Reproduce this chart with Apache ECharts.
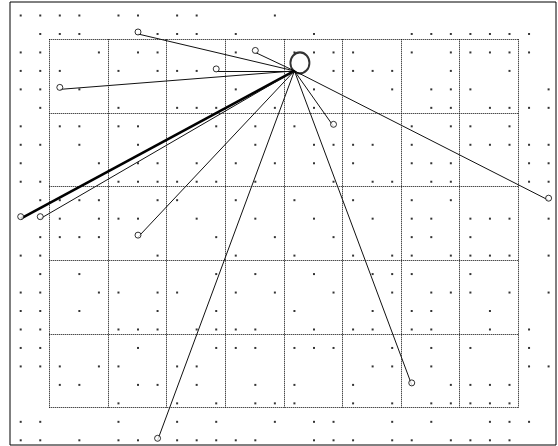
<!DOCTYPE html>
<html>
<head>
<meta charset="utf-8">
<script src="https://cdn.jsdelivr.net/npm/echarts@6/dist/echarts.min.js"></script>
<style>
  html, body { margin: 0; padding: 0; background: #fff; }
  #chart { width: 558px; height: 446px; }
</style>
</head>
<body>
<div id="chart"></div>
<script>
// dot field: for each row (top to bottom) the columns that carry a dot
const dotRows = [
  [0,1,2,3,5,6,8,9,13],
  [1,2,3,7,8,9,11,15,20,21,22,23,24,25,26],
  [0,1,4,6,7,11,14,15,16,17,20,22,23,24,25,26],
  [0,1,2,5,7,8,9,16,17,18,19,22,25],
  [0,1,3,11,15,19,21,22,23,27],
  [1,5,8,9,10,13,15,21,22,24,25,26,27],
  [0,2,3,5,6,10,12,14,20,22,23,25],
  [0,1,3,6,12,15,16,17,18,20,23,24,25,26,27],
  [0,4,6,7,9,11,13,15,17,20,21,22,26,27],
  [0,1,5,6,7,8,9,10,12,16,18,19,21,22,26,27],
  [1,2,3,4,7,8,11,14,17,20,22],
  [2,4,5,6,9,12,15,18,20,21,23,24,25,27],
  [1,2,3,4,10,13,16,20,21,23],
  [0,1,7,11,14,17,19,20,22,23,24,25,27],
  [1,3,10,12,15,18,19,20,23],
  [0,1,4,5,7,8,11,13,16,19,21,22,23,25,27],
  [0,1,3,7,10,14,18,20,21,24],
  [0,1,5,6,7,9,10,11,12,15,17,18,20,21,24,26],
  [0,1,6,10,11,12,14,15,16,19,21,23,26],
  [0,1,2,4,5,8,9,18,19,21,26,27],
  [2,3,6,7,9,12,14,17,22,23,24,25],
  [5,8,10,12,13,14,17,19,21,22,23,24,25],
  [0,1,5,8,10,13,15,16,19,21,24,25,26],
  [0,1,3,5,6,8,9,10,11,12,15,16,17,19,20,22,23,24,25]
];

// star: hub point and the end of each spoke (column, row)
const hub = [14, 3];
const spokeEnds = [
  [6,1],[12,2],[10,3],[2,4],[16,6],[27,10],
  [0,11],[1,11],[6,12],[20,20],[7,23]
];
const boldSpoke = 6;

// the dotted frame: 8 x 5 cells
const frameCols = 8;
const frameRows = 5;

const dots = [];
dotRows.forEach((cols, r) => cols.forEach(c => dots.push([c, r])));

const chart = echarts.init(document.getElementById("chart"));
const off = { show: false };
const dotted = { show: true, lineStyle: { color: "#000", width: 1, type: [1, 1] } };

chart.setOption({
  animation: false,
  backgroundColor: "#fff",
  grid: [
    { left: 20.7, right: 9.4, top: 15.5, bottom: 5.7 },
    { left: 49.3, top: 39.3, width: 469, height: 368.4 },
    { left: 10, top: 2, width: 546, height: 443, show: true, borderColor: "#000", borderWidth: 1 }
  ],
  xAxis: [
    { gridIndex: 0, type: "value", min: 0, max: 27, show: false },
    { gridIndex: 1, type: "value", min: 0, max: frameCols, interval: 1,
      axisLine: off, axisTick: off, axisLabel: off, splitLine: dotted },
    { gridIndex: 2, type: "value", min: 0, max: 1, show: false }
  ],
  yAxis: [
    { gridIndex: 0, type: "value", min: 0, max: 23, inverse: true, show: false },
    { gridIndex: 1, type: "value", min: 0, max: frameRows, interval: 1,
      axisLine: off, axisTick: off, axisLabel: off, splitLine: dotted },
    { gridIndex: 2, type: "value", min: 0, max: 1, show: false }
  ],
  series: [
    {
      type: "scatter", xAxisIndex: 0, yAxisIndex: 0, silent: true,
      symbol: "rect", symbolSize: 2,
      itemStyle: { color: "#000" },
      data: dots, z: 2
    },
    {
      type: "lines", coordinateSystem: "cartesian2d", xAxisIndex: 0, yAxisIndex: 0,
      silent: true, z: 3,
      lineStyle: { color: "#111", width: 1, opacity: 1 },
      data: spokeEnds.map((e, i) => ({
        coords: [hub, e],
        lineStyle: i === boldSpoke ? { width: 2.6, color: "#000" } : {}
      }))
    },
    {
      type: "scatter", xAxisIndex: 0, yAxisIndex: 0, silent: true, z: 4,
      symbol: "circle", symbolSize: 6, symbolOffset: [0, -2],
      itemStyle: { color: "#fff", borderColor: "#000", borderWidth: 1 },
      data: spokeEnds
    },
    {
      type: "scatter", xAxisIndex: 0, yAxisIndex: 0, silent: true, z: 5,
      symbol: "circle", symbolSize: [19, 21], symbolOffset: [5.5, -8],
      itemStyle: { color: "rgba(0,0,0,0)", borderColor: "#000", borderWidth: 2 },
      data: [hub]
    }
  ]
});
</script>
</body>
</html>
